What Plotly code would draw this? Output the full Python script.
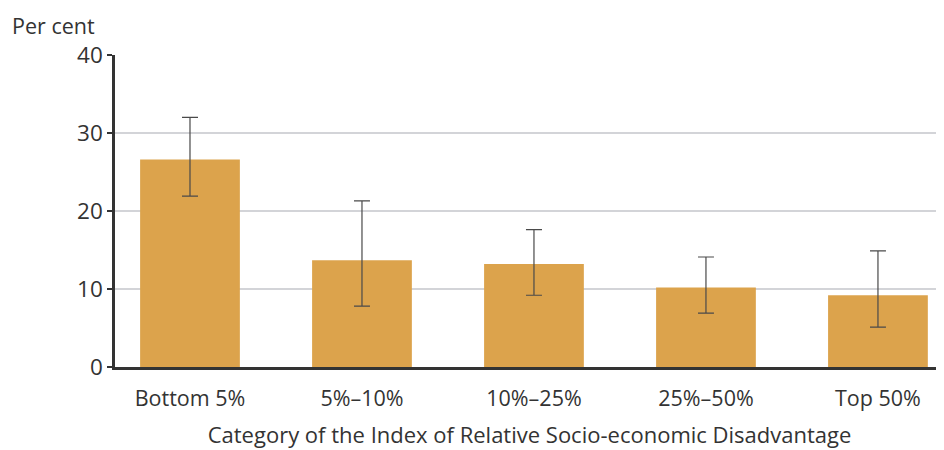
import plotly.graph_objects as go

categories = ["Bottom 5%", "5%–10%", "10%–25%", "25%–50%", "Top 50%"]
values = [26.6, 13.7, 13.2, 10.2, 9.2]
upper = [32.0, 21.3, 17.6, 14.1, 14.9]
lower = [21.9, 7.8, 9.2, 6.9, 5.1]

err_plus = [u - v for u, v in zip(upper, values)]
err_minus = [v - l for v, l in zip(values, lower)]

fig = go.Figure()
fig.add_trace(go.Bar(
    x=list(range(len(categories))),
    y=values,
    width=0.58,
    marker=dict(color="#DCA34C", line=dict(width=0)),
    error_y=dict(type="data", symmetric=False, array=err_plus, arrayminus=err_minus,
                 color="#4a4a4a", thickness=1.2, width=8),
    hoverinfo="skip",
))

fig.update_layout(
    width=944, height=450,
    margin=dict(l=107, r=8, t=47, b=91),
    paper_bgcolor="white", plot_bgcolor="white",
    font=dict(family="Open Sans, Noto Sans, sans-serif", color="#333333", size=21),
    showlegend=False,
)
fig.update_xaxes(
    tickmode="array", tickvals=list(range(len(categories))), ticktext=categories,
    range=[-0.436, 4.384],
    showline=True, linecolor="#333333", linewidth=3,
    showgrid=False, ticks="", zeroline=False,
    tickfont=dict(size=21.5),
    ticklabelstandoff=10,
    title=dict(text="Category of the Index of Relative Socio-economic Disadvantage",
               font=dict(size=22), standoff=17),
)
fig.update_yaxes(
    range=[0, 40], tickvals=[0, 10, 20, 30, 40],
    showline=True, linecolor="#333333", linewidth=2.5,
    showgrid=True, gridcolor="#d3d4d8", gridwidth=1.5,
    ticks="outside", ticklen=5, tickcolor="#333333", tickwidth=1.5,
    zeroline=False, tickfont=dict(size=22.5),
)
fig.add_annotation(text="Per cent", xref="paper", yref="paper", x=-0.127, y=1.0,
                   yshift=30, xanchor="left", yanchor="middle", showarrow=False,
                   font=dict(size=21.5, color="#333333"))

fig.write_html("out.html")
